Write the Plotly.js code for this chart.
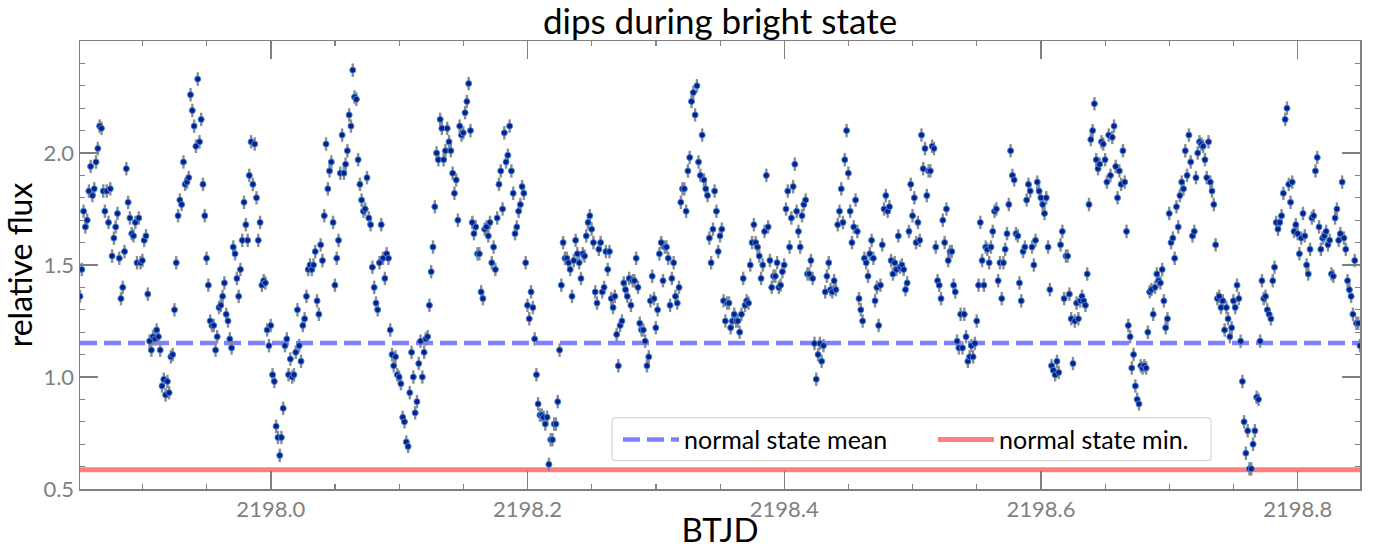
<!DOCTYPE html>
<html>
<head>
<meta charset="utf-8">
<script src="https://cdn.plot.ly/plotly-3.0.1.min.js"></script>
<style>
  html, body { margin: 0; padding: 0; background: #ffffff; }
  #chart { width: 1375px; height: 549px; }
</style>
</head>
<body>
<div id="chart"></div>
<script>
// Light curve: 2-minute cadence samples (BTJD) and relative flux.
const btjd = [
2197.8513,2197.8527,2197.8541,2197.8555,2197.8569,2197.8582,2197.8596,2197.8610,2197.8624,2197.8638,2197.8652,2197.8666,2197.8680,2197.8694,2197.8707,2197.8721,2197.8735,2197.8749,2197.8763,2197.8777,2197.8791,2197.8805,2197.8819,2197.8832,2197.8846,2197.8860,2197.8874,2197.8888,2197.8902,2197.8916,2197.8930,2197.8944,2197.8957,2197.8971,2197.8985,2197.8999,
2197.9013,2197.9027,2197.9041,2197.9055,2197.9069,2197.9082,2197.9096,2197.9110,2197.9124,2197.9138,2197.9152,2197.9166,2197.9180,2197.9194,2197.9207,2197.9221,2197.9235,2197.9249,2197.9263,2197.9277,2197.9291,2197.9305,2197.9319,2197.9332,2197.9346,2197.9360,2197.9374,2197.9388,2197.9402,2197.9416,2197.9430,2197.9444,2197.9457,2197.9471,2197.9485,2197.9499,
2197.9513,2197.9527,2197.9541,2197.9555,2197.9569,2197.9582,2197.9596,2197.9610,2197.9624,2197.9638,2197.9652,2197.9666,2197.9680,2197.9694,2197.9707,2197.9721,2197.9735,2197.9749,2197.9763,2197.9777,2197.9791,2197.9805,2197.9819,2197.9832,2197.9846,2197.9860,2197.9874,2197.9888,2197.9902,2197.9916,2197.9930,2197.9944,2197.9957,2197.9971,2197.9985,2197.9999,
2198.0013,2198.0027,2198.0041,2198.0055,2198.0069,2198.0082,2198.0096,2198.0110,2198.0124,2198.0138,2198.0152,2198.0166,2198.0180,2198.0194,2198.0207,2198.0221,2198.0235,2198.0249,2198.0263,2198.0277,2198.0291,2198.0305,2198.0319,2198.0332,2198.0346,2198.0360,2198.0374,2198.0388,2198.0402,2198.0416,2198.0430,2198.0444,2198.0457,2198.0471,2198.0485,2198.0499,
2198.0513,2198.0527,2198.0541,2198.0555,2198.0569,2198.0582,2198.0596,2198.0610,2198.0624,2198.0638,2198.0652,2198.0666,2198.0680,2198.0694,2198.0707,2198.0721,2198.0735,2198.0749,2198.0763,2198.0777,2198.0791,2198.0805,2198.0819,2198.0832,2198.0846,2198.0860,2198.0874,2198.0888,2198.0902,2198.0916,2198.0930,2198.0944,2198.0957,2198.0971,2198.0985,2198.0999,
2198.1013,2198.1027,2198.1041,2198.1055,2198.1069,2198.1082,2198.1096,2198.1110,2198.1124,2198.1138,2198.1152,2198.1166,2198.1180,2198.1194,2198.1207,2198.1221,2198.1235,2198.1249,2198.1263,2198.1277,2198.1291,2198.1305,2198.1319,2198.1332,2198.1346,2198.1360,2198.1374,2198.1388,2198.1402,2198.1416,2198.1430,2198.1444,2198.1457,2198.1471,2198.1485,2198.1499,
2198.1513,2198.1527,2198.1541,2198.1555,2198.1569,2198.1582,2198.1596,2198.1610,2198.1624,2198.1638,2198.1652,2198.1666,2198.1680,2198.1694,2198.1707,2198.1721,2198.1735,2198.1749,2198.1763,2198.1777,2198.1791,2198.1805,2198.1819,2198.1832,2198.1846,2198.1860,2198.1874,2198.1888,2198.1902,2198.1916,2198.1930,2198.1944,2198.1957,2198.1971,2198.1985,2198.1999,
2198.2013,2198.2027,2198.2041,2198.2055,2198.2069,2198.2082,2198.2096,2198.2110,2198.2124,2198.2138,2198.2152,2198.2166,2198.2180,2198.2194,2198.2207,2198.2221,2198.2235,2198.2249,2198.2263,2198.2277,2198.2291,2198.2305,2198.2319,2198.2332,2198.2346,2198.2360,2198.2374,2198.2388,2198.2402,2198.2416,2198.2430,2198.2444,2198.2457,2198.2471,2198.2485,2198.2499,
2198.2513,2198.2527,2198.2541,2198.2555,2198.2569,2198.2582,2198.2596,2198.2610,2198.2624,2198.2638,2198.2652,2198.2666,2198.2680,2198.2694,2198.2707,2198.2721,2198.2735,2198.2749,2198.2763,2198.2777,2198.2791,2198.2805,2198.2819,2198.2832,2198.2846,2198.2860,2198.2874,2198.2888,2198.2902,2198.2916,2198.2930,2198.2944,2198.2957,2198.2971,2198.2985,2198.2999,
2198.3013,2198.3027,2198.3041,2198.3055,2198.3069,2198.3082,2198.3096,2198.3110,2198.3124,2198.3138,2198.3152,2198.3166,2198.3180,2198.3194,2198.3207,2198.3221,2198.3235,2198.3249,2198.3263,2198.3277,2198.3291,2198.3305,2198.3319,2198.3332,2198.3346,2198.3360,2198.3374,2198.3388,2198.3402,2198.3416,2198.3430,2198.3444,2198.3457,2198.3471,2198.3485,2198.3499,
2198.3513,2198.3527,2198.3541,2198.3555,2198.3569,2198.3582,2198.3596,2198.3610,2198.3624,2198.3638,2198.3652,2198.3666,2198.3680,2198.3694,2198.3707,2198.3721,2198.3735,2198.3749,2198.3763,2198.3777,2198.3791,2198.3805,2198.3819,2198.3832,2198.3846,2198.3860,2198.3874,2198.3888,2198.3902,2198.3916,2198.3930,2198.3944,2198.3957,2198.3971,2198.3985,2198.3999,
2198.4013,2198.4027,2198.4041,2198.4055,2198.4069,2198.4082,2198.4096,2198.4110,2198.4124,2198.4138,2198.4152,2198.4166,2198.4180,2198.4194,2198.4207,2198.4221,2198.4235,2198.4249,2198.4263,2198.4277,2198.4291,2198.4305,2198.4319,2198.4332,2198.4346,2198.4360,2198.4374,2198.4388,2198.4402,2198.4416,2198.4430,2198.4444,2198.4457,2198.4471,2198.4485,2198.4499,
2198.4513,2198.4527,2198.4541,2198.4555,2198.4569,2198.4582,2198.4596,2198.4610,2198.4624,2198.4638,2198.4652,2198.4666,2198.4680,2198.4694,2198.4707,2198.4721,2198.4735,2198.4749,2198.4763,2198.4777,2198.4791,2198.4805,2198.4819,2198.4832,2198.4846,2198.4860,2198.4874,2198.4888,2198.4902,2198.4916,2198.4930,2198.4944,2198.4957,2198.4971,2198.4985,2198.4999,
2198.5013,2198.5027,2198.5041,2198.5055,2198.5069,2198.5082,2198.5096,2198.5110,2198.5124,2198.5138,2198.5152,2198.5166,2198.5180,2198.5194,2198.5207,2198.5221,2198.5235,2198.5249,2198.5263,2198.5277,2198.5291,2198.5305,2198.5319,2198.5332,2198.5346,2198.5360,2198.5374,2198.5388,2198.5402,2198.5416,2198.5430,2198.5444,2198.5457,2198.5471,2198.5485,2198.5499,
2198.5513,2198.5527,2198.5541,2198.5555,2198.5569,2198.5582,2198.5596,2198.5610,2198.5624,2198.5638,2198.5652,2198.5666,2198.5680,2198.5694,2198.5707,2198.5721,2198.5735,2198.5749,2198.5763,2198.5777,2198.5791,2198.5805,2198.5819,2198.5832,2198.5846,2198.5860,2198.5874,2198.5888,2198.5902,2198.5916,2198.5930,2198.5944,2198.5957,2198.5971,2198.5985,2198.5999,
2198.6013,2198.6027,2198.6041,2198.6055,2198.6069,2198.6082,2198.6096,2198.6110,2198.6124,2198.6138,2198.6152,2198.6166,2198.6180,2198.6194,2198.6207,2198.6221,2198.6235,2198.6249,2198.6263,2198.6277,2198.6291,2198.6305,2198.6319,2198.6332,2198.6346,2198.6360,2198.6374,2198.6388,2198.6402,2198.6416,2198.6430,2198.6444,2198.6457,2198.6471,2198.6485,2198.6499,
2198.6513,2198.6527,2198.6541,2198.6555,2198.6569,2198.6582,2198.6596,2198.6610,2198.6624,2198.6638,2198.6652,2198.6666,2198.6680,2198.6694,2198.6707,2198.6721,2198.6735,2198.6749,2198.6763,2198.6777,2198.6791,2198.6805,2198.6819,2198.6832,2198.6846,2198.6860,2198.6874,2198.6888,2198.6902,2198.6916,2198.6930,2198.6944,2198.6957,2198.6971,2198.6985,2198.6999,
2198.7013,2198.7027,2198.7041,2198.7055,2198.7069,2198.7082,2198.7096,2198.7110,2198.7124,2198.7138,2198.7152,2198.7166,2198.7180,2198.7194,2198.7207,2198.7221,2198.7235,2198.7249,2198.7263,2198.7277,2198.7291,2198.7305,2198.7319,2198.7332,2198.7346,2198.7360,2198.7374,2198.7388,2198.7402,2198.7416,2198.7430,2198.7444,2198.7457,2198.7471,2198.7485,2198.7499,
2198.7513,2198.7527,2198.7541,2198.7555,2198.7569,2198.7582,2198.7596,2198.7610,2198.7624,2198.7638,2198.7652,2198.7666,2198.7680,2198.7694,2198.7707,2198.7721,2198.7735,2198.7749,2198.7763,2198.7777,2198.7791,2198.7805,2198.7819,2198.7832,2198.7846,2198.7860,2198.7874,2198.7888,2198.7902,2198.7916,2198.7930,2198.7944,2198.7957,2198.7971,2198.7985,2198.7999,
2198.8013,2198.8027,2198.8041,2198.8055,2198.8069,2198.8082,2198.8096,2198.8110,2198.8124,2198.8138,2198.8152,2198.8166,2198.8180,2198.8194,2198.8207,2198.8221,2198.8235,2198.8249,2198.8263,2198.8277,2198.8291,2198.8305,2198.8319,2198.8332,2198.8346,2198.8360,2198.8374,2198.8388,2198.8402,2198.8416,2198.8430,2198.8444,2198.8457,2198.8471,2198.8485
];

const relFlux = [
1.36,1.48,1.74,1.67,1.70,1.83,1.94,1.81,1.84,1.96,
2.02,2.12,2.11,1.83,1.74,1.83,1.69,1.84,1.54,1.62,
1.67,1.73,1.53,1.35,1.40,1.56,1.93,1.78,1.71,1.64,
1.63,1.69,1.51,1.71,1.51,1.52,1.61,1.63,1.37,1.16,
1.12,1.18,1.17,1.21,1.18,1.12,0.96,0.99,0.92,0.98,
0.93,1.09,1.10,1.30,1.51,1.72,1.79,1.77,1.96,1.86,
1.87,1.89,2.26,2.19,2.12,2.03,2.33,2.05,2.15,1.86,
1.72,1.53,1.41,1.25,1.23,1.23,1.12,1.18,1.31,1.32,
1.36,1.42,1.28,1.25,1.17,1.13,1.58,1.55,1.44,1.36,
1.48,1.61,1.78,1.68,1.61,1.90,2.05,1.86,2.04,1.80,
1.61,1.69,1.41,1.43,1.42,1.21,1.14,1.23,1.01,0.98,
0.78,0.73,0.65,0.73,0.86,1.14,1.17,1.01,1.08,
1.00,1.01,1.11,1.30,1.14,1.07,1.23,1.26,1.36,1.48,
1.50,1.48,1.50,1.56,1.34,1.28,1.59,1.52,1.72,2.04,
1.84,1.92,1.96,1.69,1.41,1.53,1.61,1.91,2.08,1.91,
1.95,2.01,2.17,2.12,2.37,2.25,2.24,1.97,1.86,1.79,
1.74,1.75,1.89,1.71,1.68,1.49,1.40,1.33,1.30,1.51,
1.68,1.53,1.44,1.55,1.53,
1.21,1.10,1.05,1.09,1.01,1.00,0.97,0.82,0.80,0.71,
0.69,0.93,1.11,1.00,0.84,0.89,1.06,1.16,1.00,1.11,
1.17,1.18,1.32,1.47,1.58,1.76,2.00,1.97,2.15,2.11,
1.97,2.01,2.11,2.05,2.01,1.91,1.82,1.88,1.70,2.12,
2.08,2.09,2.18,2.23,2.31,2.10,1.69,1.64,1.67,1.55,
1.55,1.38,1.35,1.66,1.67,1.63,1.69,1.51,1.58,1.48,
1.71,1.86,1.92,
1.75,2.09,1.96,1.99,2.12,1.92,1.82,1.64,1.67,1.74,
1.77,1.85,1.82,1.51,1.32,1.26,1.38,1.31,1.17,1.01,
0.88,0.83,0.83,0.82,0.79,0.82,0.61,0.72,0.72,0.79,
0.79,0.89,1.12,1.41,1.60,1.53,1.53,1.51,1.48,1.36,
1.52,1.61,1.55,1.51,1.44,1.55,1.54,1.63,1.69,1.72,
1.66,1.60,1.38,1.33,1.57,1.60,1.38,1.40,1.56,
1.48,1.56,1.35,1.31,1.36,1.19,1.05,1.23,1.25,1.42,
1.39,1.36,1.44,1.32,1.43,1.43,1.53,1.40,1.24,1.21,
1.21,1.16,1.05,1.09,1.34,1.45,1.35,1.22,1.30,1.55,
1.60,1.43,1.58,1.58,1.53,1.32,1.44,1.51,1.36,1.33,
1.40,1.78,1.84,1.84,1.74,1.92,1.98,2.23,2.27,2.17,
2.30,1.96,1.90,2.08,1.88,1.84,1.81,1.62,1.51,
1.66,1.83,1.74,1.56,1.63,1.66,1.34,1.25,1.33,1.33,
1.22,1.25,1.28,1.25,1.25,1.20,1.28,1.44,1.32,1.34,
1.33,1.50,1.60,1.68,1.60,1.58,1.54,1.44,1.50,1.65,
1.90,1.67,1.52,1.40,1.45,1.45,1.51,1.40,1.41,1.47,
1.50,1.75,1.83,1.58,1.71,1.85,1.95,1.74,1.65,1.58,
1.72,1.77,1.79,1.46,1.46,1.52,1.44,1.15,0.99,
1.10,1.15,1.07,1.14,1.38,1.45,1.51,1.39,1.38,1.43,
1.39,1.68,1.74,1.84,1.69,1.97,2.10,1.91,1.74,1.60,
1.67,1.79,1.65,1.35,1.30,1.25,1.53,1.51,1.45,1.55,
1.61,1.53,1.34,1.40,1.23,1.41,1.59,1.75,1.81,1.74,
1.76,1.52,1.46,1.51,1.48,1.63,1.49,1.50,1.48,1.39,
1.42,1.65,1.86,1.72,1.80,1.60,1.69,1.61,2.08,
1.93,2.02,1.81,1.92,1.92,2.03,2.02,1.58,1.43,1.41,
1.35,1.70,1.60,1.75,1.52,1.56,1.56,1.41,1.38,1.16,
1.13,1.28,1.13,1.28,1.18,1.07,1.09,1.14,1.09,1.15,
1.25,1.41,1.69,1.52,1.41,1.58,1.57,1.51,1.58,1.65,
1.74,1.75,1.43,1.51,1.35,1.51,1.57,1.64,1.77,2.01,
1.90,1.88,1.64,1.63,1.42,1.34,1.56,1.58,1.79,
1.86,1.83,1.58,1.50,1.61,1.87,1.83,1.80,1.77,1.73,
1.80,1.58,1.39,1.05,1.03,1.01,1.07,1.02,1.59,1.65,
1.35,1.54,1.54,1.37,1.26,1.06,1.25,1.33,1.26,1.34,
1.36,1.34,1.32,1.46,1.77,2.06,2.10,2.22,1.97,1.93,
1.95,2.05,2.04,1.97,1.87,2.08,1.90,2.07,2.12,1.94,
1.80,1.92,1.86,2.01,1.87,1.65,
1.23,1.18,1.04,1.10,0.96,0.90,0.88,1.05,1.04,1.05,
1.04,1.20,1.38,1.39,1.28,1.40,1.46,1.43,1.42,1.48,
1.34,1.22,1.26,1.73,1.60,1.62,1.53,1.76,1.67,1.81,
1.87,1.84,2.01,1.90,2.08,1.96,1.63,1.65,1.89,2.00,
2.05,2.04,2.03,1.97,1.89,2.05,1.87,1.83,1.77,1.59,
1.35,1.36,1.31,1.34,1.21,1.31,1.26,1.18,1.22,1.34,
1.31,1.41,
1.35,1.16,0.98,0.80,0.66,0.76,0.59,0.59,0.70,0.76,
0.91,0.90,1.16,1.43,1.35,1.36,1.30,1.28,1.26,1.43,
1.49,1.69,1.66,1.69,1.72,1.82,2.15,2.20,1.86,1.78,
1.87,1.65,1.68,1.64,1.55,1.62,1.73,1.63,1.50,1.46,
1.57,1.71,1.72,1.92,1.98,1.67,1.57,1.62,1.63,1.65,
1.59,1.61,1.46,1.45,1.71,1.75,1.61,1.64,1.87,1.62,
1.57,1.43,1.39,1.36,1.28,1.52,1.24,1.24,1.14
];

// Photometric uncertainty of each sample (relative flux units)
const fluxErr = 0.03;

// Reference levels of the normal (non-bright) state
const normalMean = 1.152;
const normalMin = 0.586;

const xTickVals = [2198.0, 2198.2, 2198.4, 2198.6, 2198.8];
const xTickText = ['2198.0', '2198.2', '2198.4', '2198.6', '2198.8'];
const yTickVals = [0.5, 1.0, 1.5, 2.0];
const yTickText = ['0.5', '1.0', '1.5', '2.0'];

const FONT = 'Lato, "Noto Sans", sans-serif';
const GRAY = '#808080';
const xSpan = [btjd[0], btjd[btjd.length - 1]];

// Plot-area geometry in pixels, used to place the legend frame in paper units
const PLOT = { left: 80, right: 1360, top: 41.3, bottom: 489.3 };
const px2x = (p) => (p - PLOT.left) / (PLOT.right - PLOT.left);
const px2y = (p) => (PLOT.bottom - p) / (PLOT.bottom - PLOT.top);

const meanTrace = {
  type: 'scatter', mode: 'lines',
  x: xSpan, y: [normalMean, normalMean],
  name: 'normal state mean', legend: 'legend',
  line: { color: 'rgba(0,0,255,0.5)', width: 4.5, dash: '17px,7px' },
  hoverinfo: 'skip'
};
const minTrace = {
  type: 'scatter', mode: 'lines',
  x: xSpan, y: [normalMin, normalMin],
  name: 'normal state min.', legend: 'legend2',
  line: { color: 'rgba(255,0,0,0.5)', width: 5 },
  hoverinfo: 'skip'
};
const fluxTrace = {
  type: 'scatter', mode: 'markers',
  x: btjd, y: relFlux,
  showlegend: false,
  marker: { size: 6, color: '#0a1f8a', line: { color: '#3f86d6', width: 1 } },
  error_y: { type: 'constant', value: fluxErr, color: '#8c8c8c', thickness: 2.4, width: 0 }
};

function axisCommon() {
  return {
    showline: true, linecolor: GRAY, linewidth: 1.5, mirror: 'allticks',
    ticks: 'inside', ticklen: 18, tickwidth: 1.3, tickcolor: GRAY,
    showgrid: false, zeroline: false,
    tickfont: { family: FONT, size: 22, color: GRAY }
  };
}

function legendAt(leftPx) {
  return {
    orientation: 'h',
    x: px2x(leftPx), xanchor: 'left',
    y: px2y(440), yanchor: 'middle',
    bgcolor: 'rgba(0,0,0,0)', borderwidth: 0,
    itemwidth: 56,
    font: { family: FONT, size: 25, color: '#000000' }
  };
}

// Legend frame with slightly rounded corners
const fx0 = px2x(612), fx1 = px2x(1211), fy0 = px2y(461), fy1 = px2y(418);
const rx = 4 / 1280, ry = 4 / 448;
const framePath = `M${fx0 + rx},${fy0} L${fx1 - rx},${fy0} Q${fx1},${fy0} ${fx1},${fy0 + ry} ` +
  `L${fx1},${fy1 - ry} Q${fx1},${fy1} ${fx1 - rx},${fy1} L${fx0 + rx},${fy1} Q${fx0},${fy1} ${fx0},${fy1 - ry} ` +
  `L${fx0},${fy0 + ry} Q${fx0},${fy0} ${fx0 + rx},${fy0} Z`;

const layout = {
  width: 1375, height: 549,
  margin: { l: 80, r: 15, t: 41, b: 60 },
  paper_bgcolor: '#ffffff', plot_bgcolor: '#ffffff',
  font: { family: FONT, color: '#000000' },
  title: {
    text: 'dips during bright state',
    font: { family: FONT, size: 35, color: '#000000' },
    x: 0.5, xref: 'paper', xanchor: 'center',
    y: 1 - 22 / 549, yref: 'container', yanchor: 'middle'
  },
  xaxis: Object.assign(axisCommon(), {
    range: xSpan,
    tickmode: 'array', tickvals: xTickVals, ticktext: xTickText,
    minor: { ticks: 'inside', ticklen: 5, tickwidth: 1.2, tickcolor: GRAY, dtick: 0.05, tick0: 2198.0, showgrid: false },
    title: { text: 'BTJD', font: { family: FONT, size: 33, color: '#000000' }, standoff: 7 }
  }),
  yaxis: Object.assign(axisCommon(), {
    range: [0.5, 2.5],
    tickmode: 'array', tickvals: yTickVals, ticktext: yTickText,
    minor: { ticks: 'inside', ticklen: 5, tickwidth: 1.2, tickcolor: GRAY, dtick: 0.1, tick0: 0.5, showgrid: false },
    title: { text: 'relative flux', font: { family: FONT, size: 32, color: '#000000' }, standoff: 6 }
  }),
  shapes: [{
    type: 'path', xref: 'paper', yref: 'paper', path: framePath,
    line: { color: '#d5d5d5', width: 1.2 }, fillcolor: 'rgba(255,255,255,0.8)', layer: 'above'
  }],
  showlegend: true,
  legend: legendAt(618),
  legend2: legendAt(933)
};

Plotly.newPlot('chart', [meanTrace, minTrace, fluxTrace], layout, { displayModeBar: false, staticPlot: true });
</script>
</body>
</html>
